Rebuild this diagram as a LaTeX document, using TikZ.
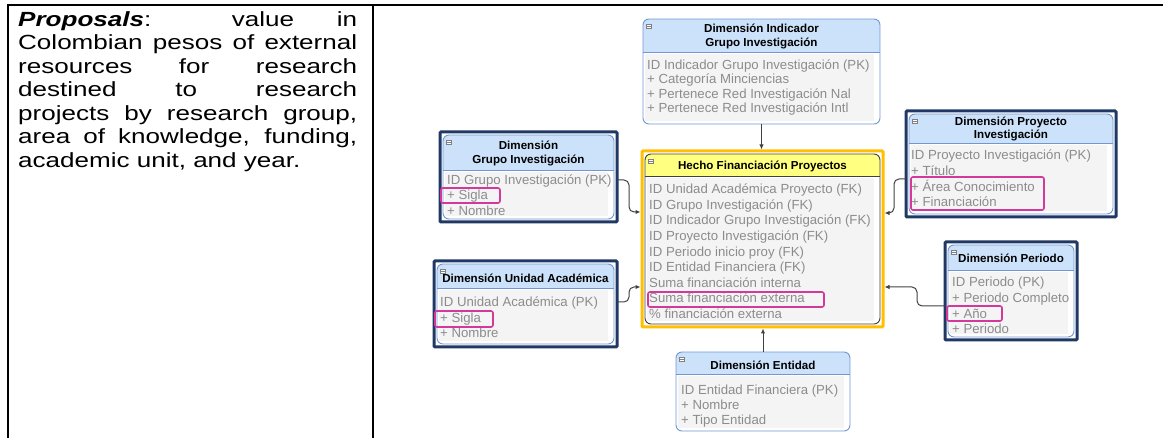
\documentclass[tikz,border=0pt]{standalone}
\usepackage{fontspec}
\setmainfont{Liberation Sans}
\newfontfamily\leftfont[FakeStretch=1.27]{Liberation Sans}
\usetikzlibrary{arrows.meta,fit,calc}
\definecolor{hdrblue}{HTML}{CCE2FB}
\definecolor{frameblue}{HTML}{7396D2}
\definecolor{navy}{HTML}{1F3864}
\definecolor{hdryellow}{HTML}{FFFF80}
\definecolor{gold}{HTML}{FFC000}
\definecolor{hlpink}{HTML}{D4389A}
\definecolor{bodytxt}{HTML}{8C8C8C}
\definecolor{bodybg}{HTML}{F4F4F4}
\definecolor{conn}{HTML}{404040}
\tikzset{
 rowtxt/.style={anchor=base west, inner sep=0pt, font=\fontsize{13.2}{15}\selectfont, text=bodytxt},
 ttltxt/.style={anchor=base, inner sep=0pt, font=\bfseries\fontsize{11.6}{14}\selectfont, text=black},
 erframe/.style={line width=0.9pt, rounded corners=6pt, inner sep=0pt},
 navybox/.style={draw=navy, line width=3pt, inner sep=0pt, rounded corners=1pt},
 goldbox/.style={draw=gold, line width=3pt, inner sep=0pt, rounded corners=1pt},
 pinkhl/.style={draw=hlpink, line width=1.6pt, rounded corners=2pt, inner sep=0pt},
 linkarrow/.style={draw=conn, line width=1pt, rounded corners=5pt, -{Latex[length=5pt,width=4.5pt]}},
 tableline/.style={line width=2pt, black},
 minusicon/.style={draw=gray, fill=white, line width=0.5pt, minimum width=5pt, minimum height=4pt, inner sep=0pt},
}
\newcommand\erbox[8]{%
 \begin{scope}
  \clip[rounded corners=6pt] (#2,#3) rectangle (#4,#5);
  \fill[white] (#2,#3) rectangle (#4,#5);
  \fill[#7] (#2,#3) rectangle (#4,#6);
  \fill[bodybg] ($(#2,#6)+(2,2.5)$) rectangle ($(#4,#5)+(-6,-3)$);
 \end{scope}
 \draw[#8, line width=0.8pt] (#2,#6) -- (#4,#6);
 \node[erframe, draw=#8, fit={(#2,#3) (#4,#5)}] (#1) {};
 \node[minusicon] (#1icon) at ($(#2,#3)+(6,7.5)$) {};
 \draw[gray, line width=0.5pt] ($(#1icon.west)+(1,0)$) -- ($(#1icon.east)+(-1,0)$);
}
\begin{document}
\begin{tikzpicture}[x=1pt,y=-1pt]
\useasboundingbox (0,0) rectangle (1163,438);
% table
\draw[tableline] (7,5) -- (1163,5);
\draw[tableline] (8,4) -- (8,438);
\draw[tableline] (372.5,4) -- (372.5,438);
\node[anchor=base west, inner sep=0pt, text width=339pt, align=justify,
  font=\leftfont\fontsize{20.5}{23.5}\selectfont] (desc) at (18,26.3)
 {\textbf{\textit{Proposals}}: value in\linebreak Colombian pesos of external\linebreak resources for research\linebreak destined to research\linebreak projects by research group,\linebreak area of knowledge, funding,\linebreak academic unit, and year.};

% A: Dimension Indicador
\erbox{A}{643}{19}{880}{124}{52}{hdrblue}{frameblue}
\node[ttltxt] (At1) at (761.5,32.2) {Dimensión Indicador};
\node[ttltxt] (At2) at (761.5,46.2) {Grupo Investigación};
\node[rowtxt] (Ar1) at (647,69.7) {ID Indicador Grupo Investigación (PK)};
\node[rowtxt] (Ar2) at (647,83.7) {+ Categoría Minciencias};
\node[rowtxt] (Ar3) at (647,98.7) {+ Pertenece Red Investigación Nal};
\node[rowtxt] (Ar4) at (647,112.7) {+ Pertenece Red Investigación Intl};

% B: Grupo Investigacion
\erbox{Bin}{443}{135}{614}{219}{170}{hdrblue}{frameblue}
\node[navybox, fit={(440,132) (617,222)}] (B) {};
\node[ttltxt] (Bt1) at (528.5,149.2) {Dimensión};
\node[ttltxt] (Bt2) at (528.5,163.2) {Grupo Investigación};
\node[rowtxt] (Br1) at (447,184.7) {ID Grupo Investigación (PK)};
\node[rowtxt] (Br2) at (447,199.7) {+ Sigla};
\node[rowtxt] (Br3) at (447,215.7) {+ Nombre};
\node[pinkhl, fit={(441,188) (500,203)}] (Bhl) {};

% E: Proyecto Investigacion
\erbox{Ein}{909}{114}{1113}{214}{143}{hdrblue}{frameblue}
\node[navybox, fit={(906,111) (1116,217)}] (E) {};
\node[ttltxt] (Et1) at (1011,125.2) {Dimensión Proyecto};
\node[ttltxt] (Et2) at (1011,138.2) {Investigación};
\node[rowtxt] (Er1) at (911,159.7) {ID Proyecto Investigación (PK)};
\node[rowtxt] (Er2) at (911,175.7) {+ Título};
\node[rowtxt] (Er3) at (911,191.7) {+ Área Conocimiento};
\node[rowtxt] (Er4) at (911,206.7) {+ Financiación};
\node[pinkhl, fit={(911,177) (1044,210)}] (Ehl) {};

% H: Hecho
\erbox{Hin}{645}{154}{880}{324}{176}{hdryellow}{conn}
\node[goldbox, fit={(642,151) (883,327)}] (H) {};
\node[ttltxt] (Ht1) at (762.5,169.2) {Hecho Financiación Proyectos};
\node[rowtxt] (Hr1) at (649,193.7) {ID Unidad Académica Proyecto (FK)};
\node[rowtxt] (Hr2) at (649,209.3) {ID Grupo Investigación (FK)};
\node[rowtxt] (Hr3) at (649,224.9) {ID Indicador Grupo Investigación (FK)};
\node[rowtxt] (Hr4) at (649,240.5) {ID Proyecto Investigación (FK)};
\node[rowtxt] (Hr5) at (649,256.1) {ID Periodo inicio proy (FK)};
\node[rowtxt] (Hr6) at (649,271.7) {ID Entidad Financiera (FK)};
\node[rowtxt] (Hr7) at (649,287.3) {Suma financiación interna};
\node[rowtxt] (Hr8) at (649,302.9) {Suma financiación externa};
\node[rowtxt] (Hr9) at (649,318.5) {\% financiación externa};
\node[pinkhl, fit={(648,292) (824,307)}] (Hhl) {};

% C: Unidad Academica
\erbox{Cin}{437}{264}{614}{344}{288}{hdrblue}{frameblue}
\node[navybox, fit={(434,261) (617,347)}] (C) {};
\node[ttltxt] (Ct1) at (525.5,282.2) {Dimensión Unidad Académica};
\node[rowtxt] (Cr1) at (440,306.7) {ID Unidad Académica (PK)};
\node[rowtxt] (Cr2) at (440,322.7) {+ Sigla};
\node[rowtxt] (Cr3) at (440,337.7) {+ Nombre};
\node[pinkhl, fit={(435,311) (493,327)}] (Chl) {};

% F: Periodo
\erbox{Fin}{948}{245}{1074}{337}{270}{hdrblue}{frameblue}
\node[navybox, fit={(945,242) (1077,340)}] (F) {};
\node[ttltxt] (Ft1) at (1011,262.2) {Dimensión Periodo};
\node[rowtxt] (Fr1) at (952,286.7) {ID Periodo (PK)};
\node[rowtxt] (Fr2) at (952,302.7) {+ Periodo Completo};
\node[rowtxt] (Fr3) at (952,318.7) {+ Año};
\node[rowtxt] (Fr4) at (952,333.7) {+ Periodo};
\node[pinkhl, fit={(947,306) (1002,321)}] (Fhl) {};

% D: Entidad
\erbox{D}{676}{352}{850}{431}{374}{hdrblue}{frameblue}
\node[ttltxt] (Dt1) at (763,369.2) {Dimensión Entidad};
\node[rowtxt] (Dr1) at (681,394.7) {ID Entidad Financiera (PK)};
\node[rowtxt] (Dr2) at (681,409.7) {+ Nombre};
\node[rowtxt] (Dr3) at (681,424.7) {+ Tipo Entidad};

% connectors
\coordinate (Bout) at (617,180);
\coordinate (Bbend) at (629,212);
\coordinate (Eout) at (906,179);
\coordinate (Ebend) at (894,213);
\coordinate (Cout) at (617,302);
\coordinate (Cbend) at (629,287);
\coordinate (Fout) at (945,306);
\coordinate (Fbend) at (917,287);
\draw[linkarrow] (A.south) -- (A.south |- H.north);
\draw[linkarrow] (D.north) -- (D.north |- H.south);
\draw[linkarrow] (Bout) -| (Bbend) -- (H.west |- Bbend);
\draw[linkarrow] (Eout) -| (Ebend) -- (H.east |- Ebend);
\draw[linkarrow] (Cout) -| (Cbend) -- (H.west |- Cbend);
\draw[linkarrow] (Fout) -| (Fbend) -- (H.east |- Fbend);
\end{tikzpicture}
\end{document}
